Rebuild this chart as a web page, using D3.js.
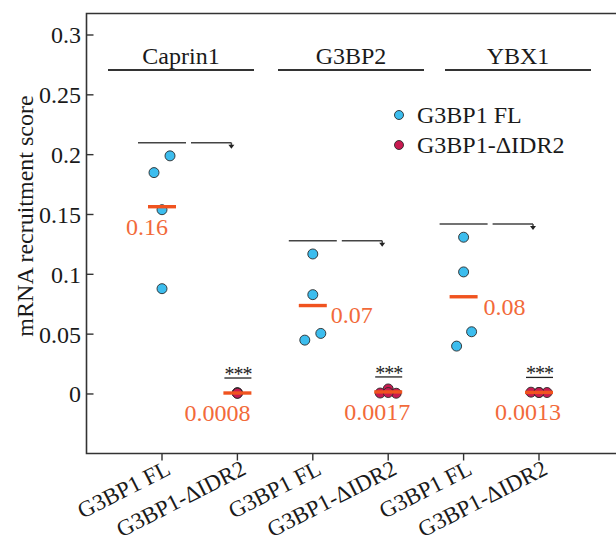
<!DOCTYPE html>
<html>
<head>
<meta charset="utf-8">
<script src="https://cdn.jsdelivr.net/npm/d3@7"></script>
<style>
  html, body { margin:0; padding:0; background:#fff; }
  svg { display:block; font-family:"Liberation Serif","Times New Roman",serif; }
</style>
</head>
<body>
<svg id="chart" width="616" height="546"></svg>
<script>
// ---- data -------------------------------------------------------------------
var GROUPS     = ['Caprin1', 'G3BP2', 'YBX1'];
var CONDITIONS = ['G3BP1 FL', 'G3BP1-\u0394IDR2'];
var Y_TICKS    = [0, 0.05, 0.1, 0.15, 0.2, 0.25, 0.3];

// one row per group x condition, in x order
var CAPRIN1_FL   = [0.199, 0.185, 0.154, 0.088];
var CAPRIN1_DIDR = [0.0011, 0.0008, 0.0007, 0.0006];
var G3BP2_FL     = [0.117, 0.083, 0.0506, 0.045];
var G3BP2_DIDR   = [0.0042, 0.0008, 0.0006, 0.0012];
var YBX1_FL      = [0.131, 0.102, 0.052, 0.040];
var YBX1_DIDR    = [0.0015, 0.0013, 0.0012, 0.0012];
var SERIES = [CAPRIN1_FL, CAPRIN1_DIDR, G3BP2_FL, G3BP2_DIDR, YBX1_FL, YBX1_DIDR];

var MEAN_LABELS = ['0.16', '0.0008', '0.07', '0.0017', '0.08', '0.0013'];
var SIG_LABELS  = ['', '***', '', '***', '', '***'];
var BRACKET_Y   = [0.21, 0.128, 0.142];   // height of the FL -> dIDR2 comparison lines

// ---- layout (pixels, not data) ----------------------------------------------
var JITTER   = [[8,-8,0,0],[0,0,0,0],[0,0,8,-8],[0,-8,8,0],[0,0,8,-7],[-8,0,8,0]];
// mean label placement: [dx from tick, dy from bar, anchor]
var LBL_POS  = [[-15,28,'middle'],[-20,28,'middle'],[18,17,'start'],[-11,28,'middle'],[20,18,'start'],[-11,28,'middle']];
var GROUP_CX = [181, 351, 518];

var BLUE = '#3cbdee', CRIMSON = '#c81a50', ORANGE = '#f0531f', ORANGE_TXT = '#f26a3a', INK = '#333', TXT = '#1a1a1a';

var svg = d3.select('#chart');
var keys = [];
GROUPS.forEach(function(g){ CONDITIONS.forEach(function(c){ keys.push(g + '|' + c); }); });

var x = d3.scalePoint().domain(keys).range([162, 539]);
var y = d3.scaleLinear().domain([-0.05, 0.3]).range([453.8, 35]);

var L = 86.5, T = 13.5, B = 453.5, R = 630;

// frame: left, top, bottom (right edge runs off the canvas)
svg.append('path')
  .attr('d', 'M' + R + ',' + T + 'H' + L + 'V' + B + 'H' + R)
  .attr('fill', 'none').attr('stroke', INK).attr('stroke-width', 1.6);

// y ticks point inward
var yAxis = svg.append('g');
Y_TICKS.forEach(function(t){
  yAxis.append('line').attr('x1', L).attr('x2', L + 7).attr('y1', y(t)).attr('y2', y(t))
    .attr('stroke', INK).attr('stroke-width', 1.4);
  yAxis.append('text').attr('x', 81).attr('y', y(t)).attr('dy', '0.35em')
    .attr('text-anchor', 'end').attr('font-size', 24).attr('fill', TXT)
    .text(t === 0 ? '0' : String(t));
});

svg.append('text')
  .attr('transform', 'translate(33,' + 216 + ') rotate(-90)')
  .attr('text-anchor', 'middle').attr('font-size', 24).attr('fill', TXT)
  .text('mRNA recruitment score');

// x ticks + rotated labels
keys.forEach(function(k, i){
  var px = x(k);
  svg.append('line').attr('x1', px).attr('x2', px).attr('y1', B).attr('y2', B + 7)
    .attr('stroke', INK).attr('stroke-width', 1.4);
  svg.append('text')
    .attr('transform', 'translate(' + (px + 10) + ',' + (B + 20) + ') rotate(-27)')
    .attr('text-anchor', 'end').attr('font-size', 23).attr('fill', TXT)
    .text(CONDITIONS[i % 2]);
});

// group headers
GROUPS.forEach(function(g, i){
  svg.append('text').attr('x', GROUP_CX[i]).attr('y', 64)
    .attr('text-anchor', 'middle').attr('font-size', 24).attr('fill', TXT).text(g);
  svg.append('line').attr('x1', GROUP_CX[i] - 73).attr('x2', GROUP_CX[i] + 73)
    .attr('y1', 70).attr('y2', 70).attr('stroke', INK).attr('stroke-width', 2);
});

// comparison brackets: FL segment, then an arrow over to dIDR2
GROUPS.forEach(function(g, i){
  var x0 = x(keys[i*2]), x1 = x(keys[i*2 + 1]), by = y(BRACKET_Y[i]);
  var gb = svg.append('g').attr('stroke', '#444').attr('stroke-width', 1.5);
  gb.append('line').attr('x1', x0 - 24).attr('x2', x0 + 24).attr('y1', by).attr('y2', by);
  gb.append('line').attr('x1', x0 + 29).attr('x2', x1 - 6).attr('y1', by).attr('y2', by);
  gb.append('line').attr('x1', x1 - 6).attr('x2', x1 - 6).attr('y1', by).attr('y2', by + 3);
  svg.append('path')
    .attr('d', 'M' + (x1 - 9) + ',' + (by + 2) + 'L' + (x1 - 3) + ',' + (by + 2) + 'L' + (x1 - 6) + ',' + (by + 6) + 'Z')
    .attr('fill', '#222');
});

// points, mean bars, labels
SERIES.forEach(function(vals, i){
  var cx = x(keys[i]);
  var col = i % 2 === 0 ? BLUE : CRIMSON;
  var m = d3.mean(vals);

  svg.append('g').selectAll('circle').data(vals).join('circle')
    .attr('cx', function(d, j){ return cx + JITTER[i][j]; })
    .attr('cy', function(d){ return y(d); })
    .attr('r', 5).attr('fill', col).attr('stroke', '#2a2a2a').attr('stroke-width', 0.9);

  svg.append('line').attr('x1', cx - 14).attr('x2', cx + 14).attr('y1', y(m)).attr('y2', y(m))
    .attr('stroke', ORANGE).attr('stroke-width', 3.4);

  var p = LBL_POS[i];
  svg.append('text').attr('x', cx + p[0]).attr('y', y(m) + p[1])
    .attr('text-anchor', p[2]).attr('font-size', 24).attr('fill', ORANGE_TXT)
    .text(MEAN_LABELS[i]);

  if (SIG_LABELS[i]){
    var sy = y(m) - 15;
    svg.append('line').attr('x1', cx - 13).attr('x2', cx + 14).attr('y1', sy).attr('y2', sy)
      .attr('stroke', '#222').attr('stroke-width', 1.3);
    svg.append('text').attr('x', cx + 0.5).attr('y', sy + 3)
      .attr('text-anchor', 'middle').attr('font-size', 20).attr('fill', '#222')
      .attr('letter-spacing', -1)
      .text(SIG_LABELS[i]);
  }
});

// legend
var LEG = [[CONDITIONS[0], BLUE], [CONDITIONS[1], CRIMSON]];
LEG.forEach(function(d, i){
  var ly = 115 + i * 30;
  svg.append('circle').attr('cx', 399).attr('cy', ly).attr('r', 4.5)
    .attr('fill', d[1]).attr('stroke', '#2a2a2a').attr('stroke-width', 0.9);
  svg.append('text').attr('x', 417).attr('y', ly).attr('dy', '0.35em')
    .attr('font-size', 24).attr('fill', TXT).text(d[0]);
});
</script>
</body>
</html>
